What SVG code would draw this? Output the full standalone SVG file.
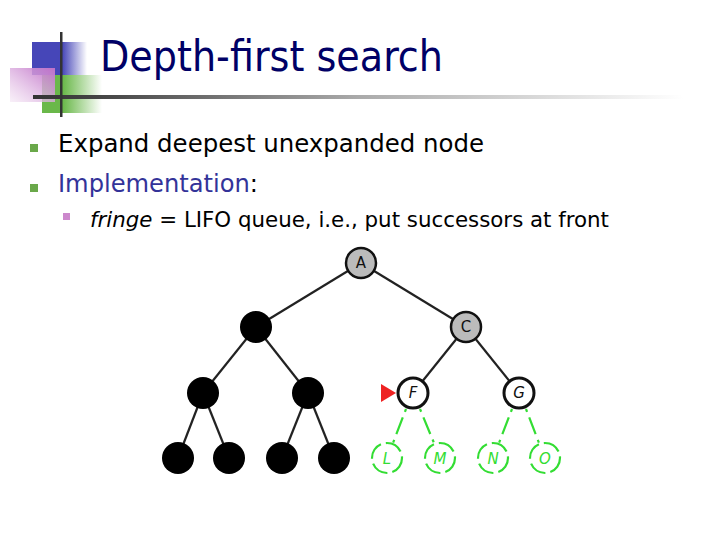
<svg xmlns="http://www.w3.org/2000/svg" width="720" height="540" viewBox="0 0 720 540">
<defs>
<linearGradient id="gBlue" x1="0" y1="0" x2="1" y2="0">
<stop offset="0" stop-color="#4646b8"/><stop offset="0.55" stop-color="#4646b8"/><stop offset="1" stop-color="#4646b8" stop-opacity="0"/>
</linearGradient>
<linearGradient id="gGreen" x1="0" y1="0" x2="1" y2="0">
<stop offset="0" stop-color="#6ab84a"/><stop offset="0.35" stop-color="#6ab84a"/><stop offset="1" stop-color="#6ab84a" stop-opacity="0"/>
</linearGradient>
<linearGradient id="gPink" x1="1" y1="0" x2="0" y2="1">
<stop offset="0" stop-color="#c070c8"/><stop offset="1" stop-color="#f4e6f4" stop-opacity="0.6"/>
</linearGradient>
<linearGradient id="gLine" x1="0" y1="0" x2="1" y2="0">
<stop offset="0" stop-color="#333333"/><stop offset="0.1" stop-color="#444444"/><stop offset="0.5" stop-color="#aaaaaa"/><stop offset="1" stop-color="#ffffff"/>
</linearGradient>
</defs>
<style>
.title{font-family:"DejaVu Sans Condensed","DejaVu Sans",sans-serif;font-size:43px;fill:#000066}
.b1{font-family:"DejaVu Sans Condensed","DejaVu Sans",sans-serif;font-size:24px;fill:#000000}
.b2{font-family:"DejaVu Sans Condensed","DejaVu Sans",sans-serif;font-size:21px;fill:#000000}
.edge{stroke:#222222;stroke-width:2.2;fill:none}
.gedge{stroke:#33dd33;stroke-width:2.2;fill:none;stroke-dasharray:3 6 18 6 3}
.blk{fill:#000000}
.gray{fill:#bbbbbb;stroke:#111111;stroke-width:2.5}
.wht{fill:#ffffff;stroke:#111111;stroke-width:3}
.gc{fill:#ffffff;stroke:#33dd33;stroke-width:2.2;stroke-dasharray:18 5}
.lbl{font-family:"DejaVu Sans","Liberation Sans",sans-serif;font-size:15px;text-anchor:middle;fill:#111111}
.glbl{font-family:"DejaVu Sans","Liberation Sans",sans-serif;font-size:15px;text-anchor:middle;fill:#33dd33;font-style:italic}
</style>
<rect width="720" height="540" fill="#ffffff"/>
<g id="logo">
<rect x="32" y="42" width="55" height="33" fill="url(#gBlue)"/>
<rect x="42" y="75" width="60" height="38" fill="url(#gGreen)"/>
<rect x="10" y="68" width="45" height="34" fill="url(#gPink)"/>
<rect x="33" y="95" width="650" height="4" fill="url(#gLine)"/>
<rect x="60" y="32" width="2.5" height="85" fill="#333333"/>
</g>
<g id="title"><text class="title" x="100" y="71" textLength="343" lengthAdjust="spacingAndGlyphs">Depth-first search</text></g>
<g id="bullets">
<rect x="30" y="144" width="8" height="8" fill="#6aa84a"/>
<rect x="30" y="184" width="8" height="8" fill="#6aa84a"/>
<rect x="63" y="213" width="7" height="7" fill="#cc88cc"/>
<text class="b1" x="58" y="152" textLength="426" lengthAdjust="spacingAndGlyphs">Expand deepest unexpanded node</text>
<text class="b1" x="58" y="192" textLength="200" lengthAdjust="spacingAndGlyphs"><tspan fill="#333399">Implementation</tspan>:</text>
<text class="b2" x="90" y="227" textLength="519" lengthAdjust="spacingAndGlyphs"><tspan font-style="italic">fringe</tspan> = LIFO queue, i.e., put successors at front</text>
</g>
<g id="connectors">
<line class="edge" x1="361" y1="263" x2="256" y2="327"/>
<line class="edge" x1="361" y1="263" x2="466" y2="327"/>
<line class="edge" x1="256" y1="327" x2="203" y2="393"/>
<line class="edge" x1="256" y1="327" x2="308" y2="393"/>
<line class="edge" x1="466" y1="327" x2="413" y2="393"/>
<line class="edge" x1="466" y1="327" x2="519" y2="393"/>
<line class="edge" x1="203" y1="393" x2="178" y2="458"/>
<line class="edge" x1="203" y1="393" x2="229" y2="458"/>
<line class="edge" x1="308" y1="393" x2="282" y2="458"/>
<line class="edge" x1="308" y1="393" x2="334" y2="458"/>
<line class="gedge" x1="406" y1="409" x2="393" y2="443"/>
<line class="gedge" x1="420" y1="409" x2="434" y2="443"/>
<line class="gedge" x1="512" y1="409" x2="499" y2="443"/>
<line class="gedge" x1="526" y1="409" x2="539" y2="443"/>
</g>
<g id="nA"><circle class="gray" cx="361" cy="263" r="15"/><text class="lbl" x="361" y="268">A</text></g>
<g id="nB"><circle class="blk" cx="256" cy="327" r="16"/></g>
<g id="nC"><circle class="gray" cx="466" cy="327" r="15"/><text class="lbl" x="466" y="332">C</text></g>
<g id="nD"><circle class="blk" cx="203" cy="393" r="16"/></g>
<g id="nE"><circle class="blk" cx="308" cy="393" r="16"/></g>
<g id="nF"><circle class="wht" cx="413" cy="393" r="15"/><text class="lbl" x="413" y="398" font-style="italic">F</text></g>
<g id="nG"><circle class="wht" cx="519" cy="393" r="15"/><text class="lbl" x="519" y="398" font-style="italic">G</text></g>
<g id="nH"><circle class="blk" cx="178" cy="458" r="16"/></g>
<g id="nI"><circle class="blk" cx="229" cy="458" r="16"/></g>
<g id="nJ"><circle class="blk" cx="282" cy="458" r="16"/></g>
<g id="nK"><circle class="blk" cx="334" cy="458" r="16"/></g>
<g id="nL"><circle class="gc" cx="387" cy="458" r="15"/><text class="glbl" x="387" y="464">L</text></g>
<g id="nM"><circle class="gc" cx="440" cy="458" r="15"/><text class="glbl" x="440" y="464">M</text></g>
<g id="nN"><circle class="gc" cx="493" cy="458" r="15"/><text class="glbl" x="493" y="464">N</text></g>
<g id="nO"><circle class="gc" cx="545" cy="458" r="15"/><text class="glbl" x="545" y="464">O</text></g>
<g id="marker"><polygon points="381,384 381,402 396,393" fill="#ee2222"/></g>
</svg>
